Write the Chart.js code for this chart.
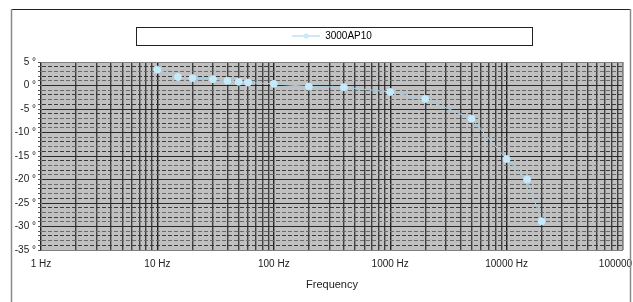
<!doctype html>
<html>
<head>
<title>3000AP10</title>
<script src="https://cdn.jsdelivr.net/npm/chart.js@4.4.1/dist/chart.umd.min.js"></script>
<style>
  html, body { margin: 0; padding: 0; background: #fff; }
  #wrap { width: 633px; height: 302px; }
</style>
</head>
<body>
<div id="wrap"><canvas id="canvas"></canvas></div>
<script>
// values
var seriesName = '3000AP10';
var frequencies = [10, 15, 20, 30, 40, 50, 60, 100, 200, 400, 1000, 2000, 5000, 10000, 15000, 20000];
var degrees = [3.35, 1.8, 1.57, 1.35, 0.99, 0.78, 0.63, 0.35, -0.22, -0.36, -1.37, -2.86, -7.08, -15.65, -20.0, -28.86];
var yMin = -35, yMax = 5;
var xMin = 1, xMax = 100000;

var points = frequencies.map(function(f, i) { return {x: f, y: degrees[i]}; });

// legend marker: line with a dot, excel style
var marker = document.createElement('canvas');
marker.width = 28; marker.height = 8;
(function() {
  var c = marker.getContext('2d');
  c.strokeStyle = '#9fd0e8';
  c.lineWidth = 1;
  c.beginPath(); c.moveTo(0, 4); c.lineTo(28, 4); c.stroke();
  c.fillStyle = '#c4eafc';
  c.beginPath(); c.arc(14, 4, 2.6, 0, Math.PI * 2); c.fill();
})();

var frame = {
  id: 'frame',
  beforeDraw: function(chart) {
    var a = chart.chartArea, ctx = chart.ctx;
    ctx.save();
    ctx.fillStyle = '#c0c0c0';
    ctx.fillRect(a.left, a.top, a.right - a.left, a.bottom - a.top);
    ctx.restore();
  },
  afterDraw: function(chart) {
    var a = chart.chartArea, ctx = chart.ctx;
    ctx.save();
    ctx.strokeStyle = '#808080';
    ctx.lineWidth = 1;
    ctx.strokeRect(a.left + 0.5, a.top + 0.5, a.right - a.left - 1, a.bottom - a.top);
    // legend box
    ctx.strokeStyle = '#222';
    ctx.strokeRect(136.5, 27.5, 396, 18);
    // outer frame
    ctx.strokeStyle = '#222';
    ctx.beginPath(); ctx.moveTo(11, 9.5); ctx.lineTo(631, 9.5); ctx.stroke();
    ctx.strokeStyle = '#8a8a8a';
    ctx.lineWidth = 1.5;
    ctx.beginPath(); ctx.moveTo(11.5, 9); ctx.lineTo(11.5, 302); ctx.stroke();
    ctx.beginPath(); ctx.moveTo(630.5, 9); ctx.lineTo(630.5, 302); ctx.stroke();
    ctx.restore();
  }
};

var ctx = document.getElementById('canvas').getContext('2d');
new Chart(ctx, {
  type: 'line',
  data: {
    datasets: [{
      label: seriesName,
      data: points,
      borderColor: '#9fd0e8',
      borderWidth: 1,
      backgroundColor: '#c4eafc',
      pointBackgroundColor: '#c4eafc',
      pointBorderColor: '#c4eafc',
      pointRadius: 3.5,
      pointStyle: 'circle',
      tension: 0
    }]
  },
  options: {
    responsive: true,
    maintainAspectRatio: false,
    animation: false,
    layout: { padding: { left: 0, right: 10, top: 21, bottom: 0 } },
    plugins: {
      tooltip: { enabled: false },
      // empty title used as a spacer between legend and plot
      title: {
        display: true,
        text: '',
        weight: 500,
        font: { size: 1, lineHeight: 1 },
        padding: { top: 0, bottom: 10 }
      },
      legend: {
        position: 'top',
        fullSize: false,
        labels: {
          usePointStyle: true,
          pointStyle: marker,
          pointStyleWidth: 28,
          padding: 10,
          color: '#222',
          font: { family: 'Liberation Sans, Arial', size: 10 },
          generateLabels: function(chart) {
            return [{ text: seriesName, pointStyle: marker, fillStyle: '#c4eafc', strokeStyle: '#c4eafc', lineWidth: 0, datasetIndex: 0 }];
          }
        }
      }
    },
    scales: {
      x: {
        type: 'logarithmic',
        min: xMin,
        max: xMax,
        afterBuildTicks: function(scale) {
          var t = [];
          for (var p = 1; p < xMax; p *= 10) {
            for (var m = 1; m < 10; m++) t.push({ value: m * p });
          }
          t.push({ value: xMax });
          scale.ticks = t;
        },
        afterFit: function(scale) {
          scale.height = 52;
          scale.paddingLeft = 0;
          scale.paddingRight = 0;
        },
        grid: {
          drawTicks: false,
          color: function(c) {
            var v = c.tick ? c.tick.value : 0;
            var l = Math.log10(v);
            return Math.abs(l - Math.round(l)) < 1e-9 ? '#222' : '#404040';
          },
          lineWidth: 1.4
        },
        border: { display: false },
        ticks: {
          autoSkip: false,
          maxRotation: 0,
          padding: 8,
          color: '#222',
          font: { family: 'Liberation Sans, Arial', size: 10 },
          callback: function(v) {
            var l = Math.log10(v);
            return Math.abs(l - Math.round(l)) < 1e-9 ? v + ' Hz' : '';
          }
        },
        title: {
          display: true,
          text: 'Frequency',
          color: '#222',
          font: { family: 'Liberation Sans, Arial', size: 11 },
          padding: { top: 0, bottom: 10 }
        }
      },
      y: {
        min: yMin,
        max: yMax,
        afterFit: function(scale) {
          scale.width = 41;
          scale.paddingTop = 0;
          scale.paddingBottom = 0;
        },
        grid: {
          tickLength: 3,
          tickColor: '#555',
          color: function(c) {
            var v = c.tick ? c.tick.value : 0;
            if (v % 5 === 0) return '#2a2a2a';
            return (Math.abs(v) % 2 === 0) ? '#3a3a3a' : '#6a6a6a';
          },
          lineWidth: 1
        },
        border: {
          display: true,
          color: '#808080',
          dash: function(c) {
            var v = c.tick ? c.tick.value : 0;
            return v % 5 === 0 ? [] : [4, 2];
          }
        },
        ticks: {
          stepSize: 1,
          autoSkip: false,
          padding: 2,
          color: '#222',
          font: { family: 'Liberation Sans, Arial', size: 10 },
          callback: function(v) { return v % 5 === 0 ? v + ' \u00b0' : ''; }
        }
      }
    }
  },
  plugins: [frame]
});
</script>
</body>
</html>
